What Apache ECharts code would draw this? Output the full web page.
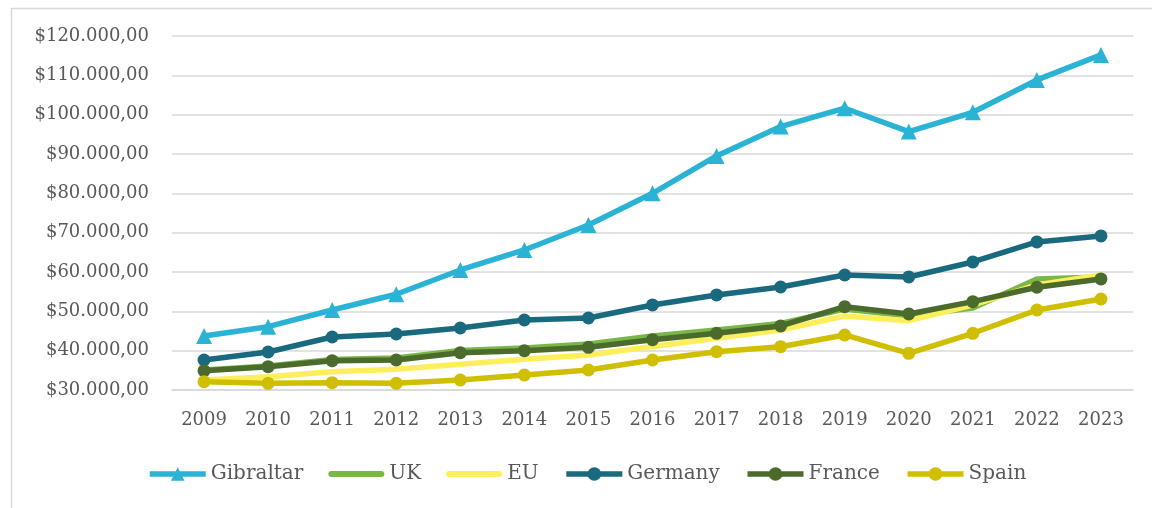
<!DOCTYPE html>
<html>
<head>
<meta charset="utf-8">
<script src="https://cdn.jsdelivr.net/npm/echarts@6/dist/echarts.min.js"></script>
<style>
html,body{margin:0;padding:0;background:#fff;}
#c{width:1152px;height:508px;}
</style>
</head>
<body>
<div id="c"></div>
<script>
const years = ['2009','2010','2011','2012','2013','2014','2015','2016','2017','2018','2019','2020','2021','2022','2023'];
const gibraltar = [43730,46100,50340,54340,60520,65600,71960,80020,89510,96960,101640,95690,100610,108830,115190];
const uk        = [35090,36100,37760,38140,40050,40680,41700,43730,45260,46910,50600,48820,50850,58230,58740];
const eu        = [32540,33380,34650,35260,36540,37810,38900,41060,43150,45260,48820,47620,51620,56700,59240];
const germany   = [37630,39660,43480,44240,45770,47800,48310,51620,54160,56190,59240,58740,62550,67640,69160];
const france    = [34910,35930,37450,37630,39490,39990,40860,42790,44420,46280,51180,49330,52460,56120,58230];
const spain     = [32110,31700,31860,31700,32540,33810,35090,37630,39740,41010,43990,39330,44420,50340,53140];
const yMin = 30000, yMax = 120000, yStep = 10000;

function fmt(v){
  const s = String(Math.round(v)).replace(/\B(?=(\d{3})+(?!\d))/g,'.');
  return '$' + s + ',00';
}

const FONT = "'DejaVu Serif', serif";
const TXT = '#595959';
const C = {Gibraltar:'#2BB3D5', UK:'#7AB648', EU:'#FDEF5B', Germany:'#1A6A7F', France:'#4A6B2B', Spain:'#CFBF00'};
const BAR_ICON = 'path://M3,0 L53,0 A3,3 0 0 1 53,6 L3,6 A3,3 0 0 1 3,0 Z';

function mk(name, data, symbol, size){
  const color = C[name];
  return {
    name, type:'line', data,
    symbol: symbol || 'circle', symbolSize:size, showSymbol: !!symbol,
    lineStyle:{color, width:5.5},
    itemStyle:{color},
    z: 2
  };
}

const chart = echarts.init(document.getElementById('c'), null, {renderer:'canvas'});
chart.setOption({
  animation:false,
  backgroundColor:'#fff',
  textStyle:{fontFamily:FONT},
  graphic:[{
    type:'rect', left:9, top:6, shape:{width:1300, height:700},
    style:{fill:'none', stroke:'#d9d9d9', lineWidth:1.5}, z:-1, silent:true
  }],
  grid:{left:172, right:19, top:36, bottom:118, containLabel:false},
  legend:{
    left:142, top:459, itemWidth:56, itemHeight:17, itemGap:25,
    lineStyle:{width:5.5},
    textStyle:{fontFamily:FONT, fontSize:20, color:TXT},
    data:[
      {name:'Gibraltar'},
      {name:'UK', icon:BAR_ICON},
      {name:'EU', icon:BAR_ICON},
      {name:'Germany'},
      {name:'France'},
      {name:'Spain'}
    ]
  },
  xAxis:{
    type:'category', data:years, boundaryGap:true,
    axisLine:{show:true, lineStyle:{color:'#d9d9d9', width:1.5}},
    axisTick:{show:false},
    axisLabel:{color:TXT, fontSize:18, fontFamily:FONT, margin:21}
  },
  yAxis:{
    type:'value', min:yMin, max:yMax, interval:yStep,
    axisLine:{show:false}, axisTick:{show:false},
    splitLine:{lineStyle:{color:'#d9d9d9', width:1.5}},
    axisLabel:{color:TXT, fontSize:18, fontFamily:FONT, margin:23, formatter:fmt}
  },
  series:[
    mk('Gibraltar', gibraltar, 'triangle', 16),
    mk('UK', uk, null, 0),
    mk('EU', eu, null, 0),
    mk('Germany', germany, 'circle', 13),
    mk('France', france, 'circle', 13),
    mk('Spain', spain, 'circle', 13)
  ]
});
</script>
</body>
</html>
